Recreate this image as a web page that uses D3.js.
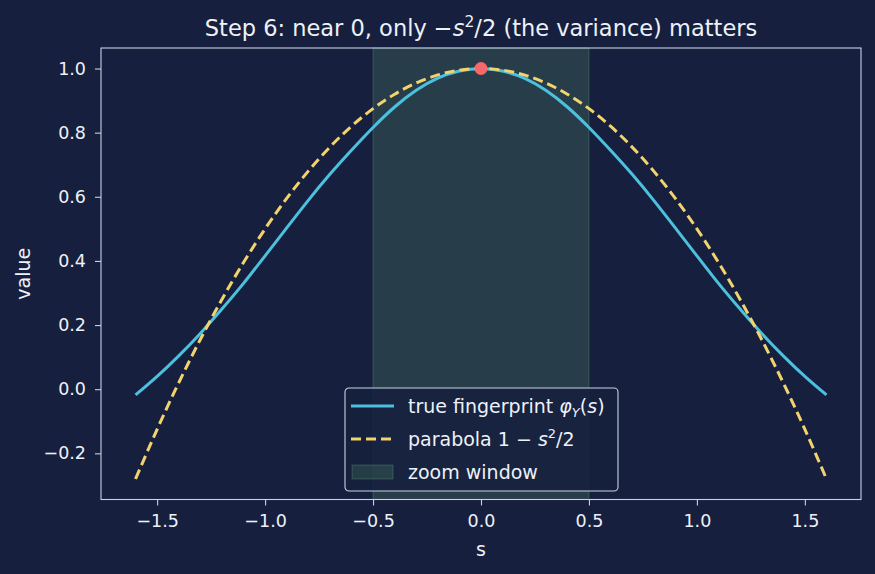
<!DOCTYPE html>
<html>
<head>
<meta charset="utf-8">
<script src="https://cdn.jsdelivr.net/npm/d3@7"></script>
<style>
  body { margin: 0; background: #16203e; }
  svg { display: block; font-family: "DejaVu Sans", sans-serif; }
</style>
</head>
<body>
<svg id="chart" width="875" height="574"></svg>
<script>
// sample points along s
let sValues = [-1.6,-1.5,-1.4,-1.3,-1.2,-1.1,-1.0,-0.9,-0.8,-0.7,-0.6,-0.5,-0.4,-0.3,-0.2,-0.1,
    0.0,0.1,0.2,0.3,0.4,0.5,0.6,0.7,0.8,0.9,1.0,1.1,1.2,1.3,1.4,1.5,1.6];
let trueFingerprint = [-0.018,0.040,0.104,0.174,0.250,0.330,0.416,0.503,0.589,0.670,0.745,0.816,0.880,0.932,0.970,0.992,
    1.0,0.992,0.970,0.932,0.880,0.816,0.745,0.670,0.589,0.503,0.416,0.330,0.250,0.174,0.104,0.040,-0.018];
let parabola = [-0.28,-0.125,0.02,0.155,0.28,0.395,0.5,0.595,0.68,0.755,0.82,0.875,0.92,0.955,0.98,0.995,
    1.0,0.995,0.98,0.955,0.92,0.875,0.82,0.755,0.68,0.595,0.5,0.395,0.28,0.155,0.02,-0.125,-0.28];
let zoomWindow = [-0.5, 0.5];
let peak = {s: 0, v: 1};
let xTicks = [-1.5,-1.0,-0.5,0.0,0.5,1.0,1.5];
let yTicks = [-0.2,0.0,0.2,0.4,0.6,0.8,1.0];

let colors = {bg: "#16203e", axis: "#c9d1e3", text: "#eef1f8", blue: "#4cc0dd",
    yellow: "#f2d36e", red: "#f76868", zoom: "#6eb478"};

let svg = d3.select("#chart");
let pl = 101, pr = 861, pt = 48, pb = 499.5;
let lw = 3, dash = "10,5";

let x = d3.scaleLinear().domain([-1.76, 1.76]).range([pl, pr]);
let y = d3.scaleLinear().domain([-0.344, 1.064]).range([pb, pt]);

svg.append("rect").attr("width", 875).attr("height", 574).style("fill", colors.bg);

// zoom window band
svg.append("rect")
    .attr("x", x(zoomWindow[0]))
    .attr("y", pt)
    .attr("width", x(zoomWindow[1]) - x(zoomWindow[0]))
    .attr("height", pb - pt)
    .style("fill", colors.zoom)
    .style("fill-opacity", 0.2)
    .style("stroke", colors.zoom)
    .style("stroke-opacity", 0.3)
    .style("stroke-width", 1);

let pts = (vals) => sValues.map((s, i) => [s, vals[i]]);
let line = d3.line()
    .x((d) => x(d[0]))
    .y((d) => y(d[1]))
    .curve(d3.curveNatural);

svg.append("path")
    .attr("d", line(pts(trueFingerprint)))
    .style("fill", "none")
    .style("stroke", colors.blue)
    .style("stroke-width", lw);

svg.append("path")
    .attr("d", line(pts(parabola)))
    .style("fill", "none")
    .style("stroke", colors.yellow)
    .style("stroke-width", lw)
    .style("stroke-dasharray", dash);

svg.append("circle")
    .attr("cx", x(peak.s))
    .attr("cy", y(peak.v))
    .attr("r", 6.5)
    .style("fill", colors.red);

// axes
let fmt = (d) => d3.format(".1f")(d).replace("-", "\u2212");
let xAxis = svg.append("g")
    .attr("transform", "translate(0," + pb + ")")
    .call(d3.axisBottom(x).tickValues(xTicks).tickSize(6).tickPadding(9).tickFormat(fmt));
let yAxis = svg.append("g")
    .attr("transform", "translate(" + pl + ",0)")
    .call(d3.axisLeft(y).tickValues(yTicks).tickSize(6).tickPadding(9).tickFormat(fmt));
for (let a of [xAxis, yAxis]) {
    a.select(".domain").remove();
    a.selectAll("line").style("stroke", colors.axis).style("stroke-width", 1.1);
    a.selectAll("text").style("fill", colors.text).style("font-size", "17.5px")
        .style("font-family", "DejaVu Sans");
}

svg.append("rect")
    .attr("x", pl).attr("y", pt)
    .attr("width", pr - pl).attr("height", pb - pt)
    .style("fill", "none").style("stroke", colors.axis).style("stroke-width", 1.1);

svg.append("text")
    .attr("x", x(0)).attr("y", 556)
    .attr("text-anchor", "middle")
    .style("fill", colors.text).style("font-size", "19px")
    .text("s");
svg.append("text")
    .attr("transform", "translate(30," + ((pt + pb) / 2) + ") rotate(-90)")
    .attr("text-anchor", "middle")
    .style("fill", colors.text).style("font-size", "19px")
    .text("value");

// title
let title = svg.append("text")
    .attr("x", x(0)).attr("y", 36)
    .attr("text-anchor", "middle")
    .style("fill", colors.text).style("font-size", "22.5px");
title.append("tspan").text("Step 6: near 0, only \u2212");
title.append("tspan").style("font-style", "italic").text("s");
title.append("tspan").attr("dy", -9).style("font-size", "15.5px").text("2");
title.append("tspan").attr("dy", 9).text("/2 (the variance) matters");

// legend
let lg = svg.append("g").attr("transform", "translate(345,388)");
lg.append("rect")
    .attr("width", 273).attr("height", 103).attr("rx", 4)
    .style("fill", colors.bg).style("fill-opacity", 0.88)
    .style("stroke", colors.axis).style("stroke-width", 1.1);
let rows = [18, 51, 84];
lg.append("line").attr("x1", 6).attr("x2", 49).attr("y1", rows[0]).attr("y2", rows[0])
    .style("stroke", colors.blue).style("stroke-width", lw);
lg.append("line").attr("x1", 6).attr("x2", 49).attr("y1", rows[1]).attr("y2", rows[1])
    .style("stroke", colors.yellow).style("stroke-width", lw).style("stroke-dasharray", dash);
lg.append("rect").attr("x", 7).attr("y", rows[2] - 7).attr("width", 41).attr("height", 14)
    .style("fill", colors.zoom).style("fill-opacity", 0.2)
    .style("stroke", colors.zoom).style("stroke-opacity", 0.3);

let lt = (i) => lg.append("text").attr("x", 63).attr("y", rows[i] + 7)
    .style("fill", colors.text).style("font-size", "19px");
let t0 = lt(0);
t0.append("tspan").text("true fingerprint ");
t0.append("tspan").style("font-style", "italic").text("\u03C6");
t0.append("tspan").attr("dy", 4).style("font-style", "italic").style("font-size", "13px").text("Y");
t0.append("tspan").attr("dy", -4).text("(");
t0.append("tspan").style("font-style", "italic").text("s");
t0.append("tspan").text(")");
let t1 = lt(1);
t1.append("tspan").text("parabola 1 \u2212 ");
t1.append("tspan").style("font-style", "italic").text("s");
t1.append("tspan").attr("dy", -8).style("font-size", "13px").text("2");
t1.append("tspan").attr("dy", 8).text("/2");
lt(2).text("zoom window");
</script>
</body>
</html>
